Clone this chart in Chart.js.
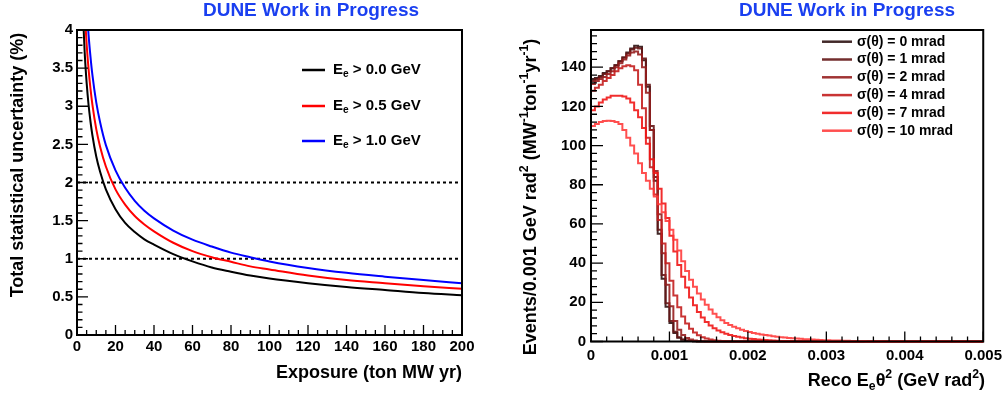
<!DOCTYPE html>
<html><head><meta charset="utf-8">
<script src="https://cdn.jsdelivr.net/npm/chart.js@4.4.1/dist/chart.umd.min.js"></script>
<style>
html,body{margin:0;padding:0;background:#fff;}
body{width:1007px;height:397px;overflow:hidden;position:relative;}
canvas{position:absolute;top:0;}
#c1{left:0;} #c2{left:500px;}
</style></head><body>
<canvas id="c1" width="500" height="397"></canvas>
<canvas id="c2" width="507" height="397"></canvas>
<script>
// ---------------- LEFT PANEL DATA ----------------
const exposure   = [3,4,5,6,7,8,10,12,15,20,25,30,35,40,50,60,70,80,90,100,120,140,160,180,200];
const uncertE00  = [4.27,3.70,3.31,3.02,2.80,2.62,2.34,2.14,1.91,1.65,1.47,1.35,1.255,1.185,1.06,0.965,0.885,0.83,0.78,0.74,0.68,0.63,0.59,0.55,0.52];
const uncertE05  = [4.94,4.28,3.82,3.49,3.23,3.02,2.70,2.47,2.21,1.91,1.71,1.56,1.45,1.36,1.21,1.10,1.02,0.96,0.90,0.86,0.78,0.72,0.68,0.64,0.605];
const uncertE10  = [5.57,4.83,4.32,3.94,3.65,3.41,3.05,2.79,2.49,2.16,1.93,1.76,1.63,1.53,1.37,1.25,1.16,1.08,1.02,0.965,0.88,0.815,0.765,0.72,0.68];
const cutLabels  = ['0.0','0.5','1.0'];
const refLevels  = [1,2];
const leftXRange = [0,200];
const leftYRange = [0,4];

// ---------------- RIGHT PANEL DATA ----------------
const nBins = 100, histLo = 0, histHi = 0.005;
const sigmaMrad = ['0','1','2','4','7','10'];
const counts0  = [132,134,134.5,135.5,137,138,139.5,141,143,145,147.5,149.5,151,150.5,143.5,130,108,82,55,32,17.8,9.5,4.4,1.9,0.9,0.4,0.2,0.1];
const counts1  = [130.5,133,134,135,136.5,138,139.5,141,143,145,147,149,150,149.5,144.5,131,110,84,57,34,19.5,10.5,5,2.2,1,0.5,0.2,0.1];
const counts2  = [129,131.5,133,134,135,136.5,138,140,142,144,146,147.5,148,146.5,140,127,108,87,65,45,29,18,10.5,6,3.3,1.8,1,0.5,0.25,0.1];
const counts4  = [125.5,128,129.5,131,133,134.5,136,138,139.5,140.5,141,140.5,138.5,131,119,104,89,75,62,50,40,31,23.5,17.5,12.8,9.2,6.5,4.6,3.2,2.2,1.5,1.0,0.65,0.4,0.25,0.15,0.1];
const counts7  = [116,118,120,122,123.5,124.5,125.5,125.5,125.5,125,124,122,118,114.5,109,101,93,86,78,70.5,63,54,46,39,33,27.5,22.5,18.5,15,12.2,10,8.2,6.8,5.6,4.7,3.9,3.3,2.8,2.4,2.0,1.7,1.45,1.25,1.05,0.9,0.75,0.6,0.5,0.4,0.3,0.25,0.2,0.15,0.1,0.1];
const counts10 = [108.5,110,111,112,112.5,112.7,112.5,112,111,108,104,100,96,91,86,82,78,74,70,66,61.5,57,52,46.5,41,36,31.5,28,24.5,21.5,18.8,16.3,14.2,12.4,10.8,9.5,8.4,7.5,6.7,6.0,5.4,4.9,4.4,4.0,3.6,3.3,3.0,2.7,2.45,2.2,2.0,1.8,1.65,1.5,1.35,1.2,1.1,1.0,0.9,0.8,0.7,0.6,0.55,0.5,0.45,0.4,0.35,0.3,0.25,0.2,0.2,0.15,0.1,0.1,0.1];
const rightYMax = 159;

// ---------------- helpers ----------------
const FONT = "'Liberation Sans', Arial, Helvetica, sans-serif";
function font(sz){ return 'bold ' + sz + 'px ' + FONT; }
function richWidth(ctx, segs, sz){
  let w = 0;
  for (const [t, k] of segs){ ctx.font = font(k ? sz*0.68 : sz); w += ctx.measureText(t).width; }
  return w;
}
function drawRich(ctx, segs, x, y, sz, align, color){
  const w = richWidth(ctx, segs, sz);
  let cx = align === 'right' ? x - w : align === 'center' ? x - w/2 : x;
  ctx.fillStyle = color || '#000';
  ctx.textBaseline = 'middle';
  ctx.textAlign = 'left';
  for (const [t, k] of segs){
    const s = k ? sz*0.68 : sz;
    ctx.font = font(s);
    const dy = k === 1 ? -sz*0.38 : k === -1 ? sz*0.3 : 0;
    ctx.fillText(t, cx, y + dy);
    cx += ctx.measureText(t).width;
  }
}
function decor(o){
  return {
    id: 'decor',
    afterDatasetsDraw(chart){
      const {ctx, chartArea:a, scales:{x, y}} = chart;
      ctx.save();
      ctx.strokeStyle = '#000'; ctx.lineWidth = 1.3;
      ctx.beginPath();
      const nx = Math.round((x.max - x.min)/o.xMinor);
      for (let k = 0; k <= nx; k++){
        const v = x.min + k*o.xMinor;
        const maj = Math.abs(v/o.xMajor - Math.round(v/o.xMajor)) < 1e-6;
        const px = x.getPixelForValue(v);
        ctx.moveTo(px, a.bottom); ctx.lineTo(px, a.bottom - (maj ? o.xLen[0] : o.xLen[1]));
      }
      const ny = Math.floor((y.max - y.min)/o.yMinor + 1e-6);
      for (let k = 0; k <= ny; k++){
        const v = y.min + k*o.yMinor;
        const maj = Math.abs(v/o.yMajor - Math.round(v/o.yMajor)) < 1e-6;
        const py = y.getPixelForValue(v);
        ctx.moveTo(a.left, py); ctx.lineTo(a.left + (maj ? o.yLen[0] : o.yLen[1]), py);
      }
      ctx.stroke();
      ctx.lineWidth = 2;
      ctx.strokeRect(a.left, a.top, a.right - a.left, a.bottom - a.top);
      ctx.restore();
    },
    afterDraw(chart){
      const ctx = chart.ctx;
      ctx.save();
      o.texts(ctx, chart);
      ctx.restore();
    }
  };
}
const tickFont = {family: FONT, size: 15, weight: 'bold'};
const plainNum = v => String(+(+v).toFixed(4));

// ---------------- LEFT CHART ----------------
const leftColors = ['#000000', '#ff0000', '#0000ff'];
const leftSeries = [uncertE00, uncertE05, uncertE10];
const leftDatasets = leftSeries.map((s, i) => ({
  data: exposure.map((e, j) => ({x: e, y: s[j]})),
  borderColor: leftColors[i], borderWidth: 2, pointRadius: 0,
  cubicInterpolationMode: 'monotone', fill: false, clip: 1
}));
refLevels.forEach(l => leftDatasets.push({
  data: leftXRange.map(e => ({x: e, y: l})),
  borderColor: '#000', borderWidth: 2, borderDash: [3, 3], pointRadius: 0, fill: false
}));

new Chart(document.getElementById('c1'), {
  type: 'line',
  data: {datasets: leftDatasets},
  options: {
    responsive: false, animation: false, devicePixelRatio: 1,
    layout: {padding: {left: 0, top: 30, right: 38, bottom: 0}},
    plugins: {legend: {display: false}, tooltip: {enabled: false}},
    scales: {
      x: {type: 'linear', min: leftXRange[0], max: leftXRange[1],
          afterFit: s => { s.height = 62; },
          grid: {display: false, drawTicks: false}, border: {display: false},
          ticks: {stepSize: 20, autoSkip: false, maxRotation: 0, padding: 3, color: '#000', font: tickFont, callback: plainNum}},
      y: {type: 'linear', min: leftYRange[0], max: leftYRange[1],
          afterFit: s => { s.width = 77; },
          grid: {display: false, drawTicks: false}, border: {display: false},
          ticks: {stepSize: 0.5, autoSkip: false, padding: 4, color: '#000', font: tickFont, callback: plainNum}}
    }
  },
  plugins: [decor({
    xMajor: 20, xMinor: 5, yMajor: 0.5, yMinor: 0.1, xLen: [10, 5], yLen: [11, 5.5],
    texts(ctx, chart){
      drawRich(ctx, [['DUNE Work in Progress', 0]], 311, 11, 19, 'center', '#1a3ff0');
      drawRich(ctx, [['Exposure (ton MW yr)', 0]], 462, 373, 18, 'right');
      ctx.save(); ctx.translate(18, 165); ctx.rotate(-Math.PI/2);
      drawRich(ctx, [['Total statistical uncertainty (%)', 0]], 0, 0, 18, 'center');
      ctx.restore();
      const ys = [70, 106, 141];
      cutLabels.forEach((c, i) => {
        ctx.strokeStyle = leftColors[i]; ctx.lineWidth = 2.5;
        ctx.beginPath(); ctx.moveTo(302, ys[i]); ctx.lineTo(325, ys[i]); ctx.stroke();
        drawRich(ctx, [['E', 0], ['e', -1], [' > ' + c + ' GeV', 0]], 333, ys[i], 15, 'left');
      });
    }
  })]
});

// ---------------- RIGHT CHART ----------------
const histColors = ['rgba(45,18,18,0.9)','rgba(100,22,22,0.9)','rgba(150,30,30,0.9)','rgba(195,30,30,0.9)','rgba(240,22,22,0.9)','rgba(255,55,55,0.88)'];
const histCounts = [counts0, counts1, counts2, counts4, counts7, counts10];
function histPoints(counts){
  const w = (histHi - histLo)/nBins;
  const pts = [{x: histLo, y: 0}];
  for (let i = 0; i < nBins; i++) pts.push({x: histLo + i*w, y: i < counts.length ? counts[i] : 0});
  pts.push({x: histHi, y: counts.length >= nBins ? counts[nBins-1] : 0});
  return pts;
}
const rightDatasets = histCounts.map((c, i) => ({
  data: histPoints(c), stepped: 'after',
  borderColor: histColors[i], borderWidth: 2, pointRadius: 0, fill: false,
  order: histCounts.length - i, clip: {left: 2, right: 2, top: 0, bottom: 2}
}));

new Chart(document.getElementById('c2'), {
  type: 'line',
  data: {datasets: rightDatasets},
  options: {
    responsive: false, animation: false, devicePixelRatio: 1,
    layout: {padding: {left: 0, top: 30, right: 22, bottom: 0}},
    plugins: {legend: {display: false}, tooltip: {enabled: false}},
    scales: {
      x: {type: 'linear', min: histLo, max: histHi,
          afterFit: s => { s.height = 55.5; },
          grid: {display: false, drawTicks: false}, border: {display: false},
          ticks: {stepSize: 0.001, autoSkip: false, maxRotation: 0, padding: 5, color: '#000', font: tickFont, callback: plainNum}},
      y: {type: 'linear', min: 0, max: rightYMax,
          afterFit: s => { s.width = 91; },
          grid: {display: false, drawTicks: false}, border: {display: false},
          ticks: {stepSize: 20, includeBounds: false, autoSkip: false, padding: 5, color: '#000', font: tickFont, callback: plainNum}}
    }
  },
  plugins: [decor({
    xMajor: 0.001, xMinor: 0.0002, yMajor: 20, yMinor: 4, xLen: [10, 5], yLen: [12, 6],
    texts(ctx, chart){
      drawRich(ctx, [['DUNE Work in Progress', 0]], 347, 11, 19, 'center', '#1a3ff0');
      drawRich(ctx, [['Reco E', 0], ['e', -1], ['\u03b8', 0], ['2', 1], [' (GeV rad', 0], ['2', 1], [')', 0]], 485, 381, 18, 'right');
      ctx.save(); ctx.translate(31, 197); ctx.rotate(-Math.PI/2);
      drawRich(ctx, [['Events/0.001 GeV rad', 0], ['2', 1], [' (MW', 0], ['-1', 1], ['ton', 0], ['-1', 1], ['yr', 0], ['-1', 1], [')', 0]], 0, 0, 18, 'center');
      ctx.restore();
      sigmaMrad.forEach((s, i) => {
        const yy = 41.7 + i*17.8;
        ctx.strokeStyle = histColors[i]; ctx.lineWidth = 2.5;
        ctx.beginPath(); ctx.moveTo(322, yy); ctx.lineTo(352, yy); ctx.stroke();
        drawRich(ctx, [['\u03c3(\u03b8) = ' + s + ' mrad', 0]], 357, yy, 14, 'left');
      });
    }
  })]
});
</script>
</body></html>
